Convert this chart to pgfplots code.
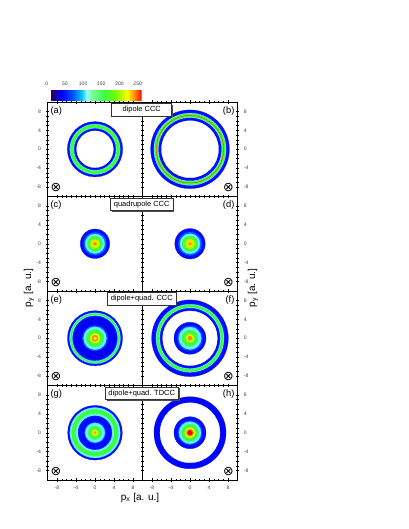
\documentclass[border=0pt]{standalone}
\usepackage{fontspec}
\setmainfont{Liberation Sans}
\newfontfamily\symfont{DejaVu Sans}
\usepackage{pgfplots}
\pgfplotsset{compat=1.18}
\usetikzlibrary{calc,shadows}
\pgfkeys{/pgf/number format/assume math mode=true}

\newcommand\tk{\fontsize{3.8}{4}\selectfont}
\newcommand\lbl{\fontsize{7}{8}\selectfont}

\pgfplotsset{
  colormap={ccc}{rgb255(0cm)=(40,0,90) rgb255(3cm)=(0,0,255) rgb255(6cm)=(0,80,255)
    rgb255(8.5cm)=(0,200,255) rgb255(10cm)=(160,255,255) rgb255(11cm)=(120,255,160)
    rgb255(15cm)=(60,255,60) rgb255(18cm)=(120,255,0) rgb255(21cm)=(255,255,0)
    rgb255(23cm)=(255,140,0) rgb255(25cm)=(255,0,0)},
  panel/.style={
    scale only axis, width=71.25pt, height=70.875pt,
    xmin=-10, xmax=10, ymin=-10, ymax=10,
    xtick={-8,-4,0,4,8}, ytick={-8,-4,0,4,8},
    minor tick num=3, tick align=center,
    major tick length=2.6pt, minor tick length=1.6pt,
    tick style={black, line width=0.35pt},
    ticklabel style={font=\tk, text=black!75},
    axis line style={line width=0.6pt},
    point meta min=0, point meta max=250, colormap name=ccc,
    clip=false, anchor=north west,
  },
  noxl/.style={xticklabels={}},
  rightcol/.style={ytick pos=both, yticklabel pos=right},
  rsize/.style={
    visualization depends on={3.5625*\thisrow{r} \as \rad},
    scatter/@pre marker code/.append style={/tikz/mark size=\rad}},
  ring/.style={scatter, only marks, mark=*, point meta=explicit,
    scatter/use mapped color={draw=mapped color, fill=mapped color, line width=0.2pt},
    rsize},
  hole/.style={scatter, only marks, mark=*, point meta=explicit,
    scatter/use mapped color={draw=white, fill=white, line width=0.2pt},
    rsize},
}
\tikzset{
  tbox/.style={draw=black!80, line width=0.4pt, fill=white,
    drop shadow={shadow xshift=1.1pt, shadow yshift=-1.1pt, fill=black!70, opacity=1},
    font=\fontsize{5.6}{6}\selectfont, inner xsep=2.5pt, inner ysep=0pt,
    minimum height=9.5pt, anchor=north},
  cross/.style={font=\symfont\fontsize{9.5}{9.5}\selectfont, inner sep=0pt},
}

\begin{document}
\begin{tikzpicture}
\useasboundingbox (0,0) rectangle (306.75pt,-396.75pt);

% row 1: dipole CCC
\begin{axis}[panel, noxl, at={(35.625pt,-76.5pt)},
  colorbar horizontal,
  colorbar style={at={($(parent axis.north west)+(2.4pt,9.75pt)$)}, anchor=south west,
    scale only axis, width=68.25pt, height=7.5pt,
    xtick={0,50,...,250}, xticklabel pos=upper, minor tick num=0,
    xticklabel style={font=\tk, xshift=-3pt},
    major tick length=0pt, axis line style={draw=none}}]
\addplot[ring] table[meta=c, row sep=\\] {x y r c\\ 0 0 5.82 35\\ 0 0 5.30 95\\ 0 0 5.18 150\\ 0 0 4.47 95\\ 0 0 4.35 35\\};
\addplot[hole] table[meta=c, row sep=\\] {x y r c\\ 0 0 3.86 0\\};
\node[anchor=north west, inner sep=0pt, font=\lbl] at (rel axis cs:0.03,0.955) {(a)};
\node[cross] at (axis cs:-8.2,-8.2) {⊗};
\end{axis}
\begin{axis}[panel, noxl, rightcol, at={(106.875pt,-76.5pt)}]
\addplot[ring] table[meta=c, row sep=\\] {x y r c\\ 0 0 8.28 35\\ 0 0 7.60 95\\ 0 0 7.45 150\\ 0 0 7.12 240\\ 0 0 6.98 150\\ 0 0 6.70 95\\ 0 0 6.58 35\\};
\addplot[hole] table[meta=c, row sep=\\] {x y r c\\ 0 0 6.00 0\\};
\node[anchor=north east, inner sep=0pt, font=\lbl] at (rel axis cs:0.97,0.955) {(b)};
\node[cross] at (axis cs:8.1,-8.2) {⊗};
\end{axis}

% row 2: quadrupole CCC
\begin{axis}[panel, noxl, at={(35.625pt,-147.375pt)}]
\addplot[ring] table[meta=c, row sep=\\] {x y r c\\ 0 0 3.10 35\\ 0 0 2.40 65\\ 0 0 2.05 95\\ 0 0 1.60 150\\ 0 0 1.05 190\\ 0 0 0.70 215\\ 0 0 0.35 232\\};
\node[anchor=north west, inner sep=0pt, font=\lbl] at (rel axis cs:0.03,0.955) {(c)};
\node[cross] at (axis cs:-8.2,-8.2) {⊗};
\end{axis}
\begin{axis}[panel, noxl, rightcol, at={(106.875pt,-147.375pt)}]
\addplot[ring] table[meta=c, row sep=\\] {x y r c\\ 0 0 3.20 35\\ 0 0 2.45 65\\ 0 0 2.10 95\\ 0 0 1.65 150\\ 0 0 1.10 190\\ 0 0 0.70 215\\ 0 0 0.35 228\\};
\node[anchor=north east, inner sep=0pt, font=\lbl] at (rel axis cs:0.97,0.955) {(d)};
\node[cross] at (axis cs:8.1,-8.2) {⊗};
\end{axis}

% row 3: dipole+quad. CCC
\begin{axis}[panel, noxl, at={(35.625pt,-218.25pt)}]
\addplot[ring] table[meta=c, row sep=\\] {x y r c\\ 0 0 5.80 35\\ 0 0 5.35 95\\ 0 0 5.20 150\\ 0 0 4.85 95\\ 0 0 4.70 40\\ 0 0 4.45 28\\ 0 0 2.70 60\\ 0 0 2.40 95\\ 0 0 1.85 150\\ 0 0 1.05 205\\ 0 0 0.65 232\\ 0 0 0.35 210\\};
\node[anchor=north west, inner sep=0pt, font=\lbl] at (rel axis cs:0.03,0.955) {(e)};
\node[cross] at (axis cs:-8.2,-8.2) {⊗};
\end{axis}
\begin{axis}[panel, noxl, rightcol, at={(106.875pt,-218.25pt)}]
\addplot[ring] table[meta=c, row sep=\\] {x y r c\\ 0 0 8.07 35\\ 0 0 7.15 95\\ 0 0 7.00 150\\ 0 0 6.45 95\\ 0 0 6.30 35\\};
\addplot[hole] table[meta=c, row sep=\\] {x y r c\\ 0 0 5.75 0\\};
\addplot[ring] table[meta=c, row sep=\\] {x y r c\\ 0 0 3.37 35\\ 0 0 2.60 65\\ 0 0 2.35 95\\ 0 0 1.70 150\\ 0 0 0.90 200\\ 0 0 0.45 230\\};
\node[anchor=north east, inner sep=0pt, font=\lbl] at (rel axis cs:0.97,0.955) {(f)};
\node[cross] at (axis cs:8.1,-8.2) {⊗};
\end{axis}

% row 4: dipole+quad. TDCC
\begin{axis}[panel, at={(35.625pt,-289.125pt)}]
\addplot[ring] table[meta=c, row sep=\\] {x y r c\\ 0 0 5.75 35\\ 0 0 5.30 95\\ 0 0 4.90 150\\ 0 0 4.00 95\\ 0 0 3.55 35\\ 0 0 2.20 65\\ 0 0 2.05 95\\ 0 0 1.40 150\\ 0 0 0.70 200\\ 0 0 0.30 225\\};
\node[anchor=north west, inner sep=0pt, font=\lbl] at (rel axis cs:0.03,0.955) {(g)};
\node[cross] at (axis cs:-8.2,-8.2) {⊗};
\end{axis}
\begin{axis}[panel, rightcol, at={(106.875pt,-289.125pt)}]
\addplot[ring] table[meta=c, row sep=\\] {x y r c\\ 0 0 7.58 32\\};
\addplot[hole] table[meta=c, row sep=\\] {x y r c\\ 0 0 6.30 0\\};
\addplot[ring] table[meta=c, row sep=\\] {x y r c\\ 0 0 3.37 35\\ 0 0 2.50 65\\ 0 0 2.30 95\\ 0 0 1.80 150\\ 0 0 1.10 205\\ 0 0 0.75 232\\ 0 0 0.50 250\\};
\node[anchor=north east, inner sep=0pt, font=\lbl] at (rel axis cs:0.97,0.955) {(h)};
\node[cross] at (axis cs:8.1,-8.2) {⊗};
\end{axis}

% titles and axis labels
\node[tbox, minimum width=45pt] at (106.3pt,-77.25pt) {dipole CCC};
\node[tbox] at (106.3pt,-148.125pt) {quadrupole CCC};
\node[tbox] at (106.3pt,-219pt) {dipole+quad. CCC};
\node[tbox] at (106.3pt,-289.875pt) {dipole+quad. TDCC};
\node[rotate=90, font=\fontsize{7.5}{9}\selectfont] at (21.75pt,-216pt) {p\textsubscript{y} [a. u.]};
\node[rotate=90, font=\fontsize{7.5}{9}\selectfont] at (189.75pt,-216pt) {p\textsubscript{y} [a. u.]};
\node[font=\fontsize{7.5}{9}\selectfont] at (105pt,-373.5pt) {p\textsubscript{x} [a. u.]};
\end{tikzpicture}
\end{document}
